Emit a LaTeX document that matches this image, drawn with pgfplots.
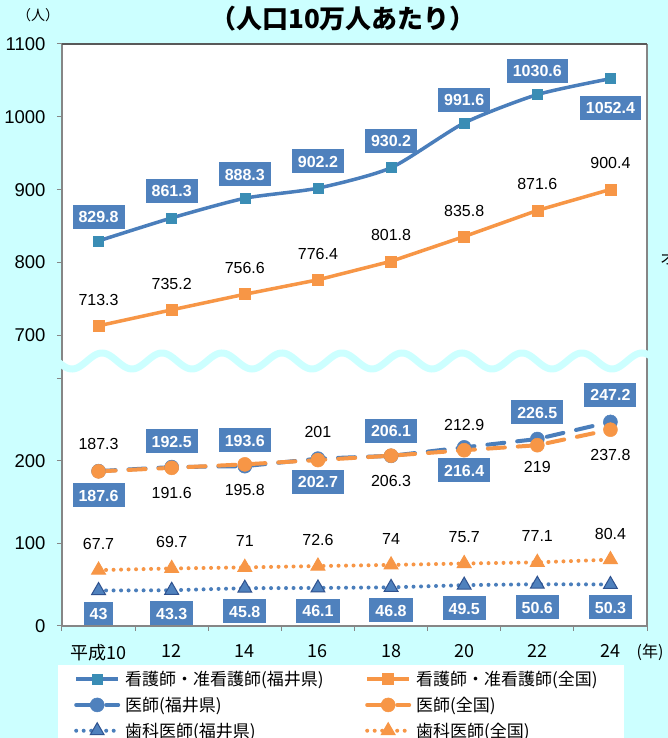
\documentclass[border=0pt]{standalone}
\usepackage{fontspec}
\setmainfont{Liberation Sans}
\newfontfamily\jp{Noto Sans CJK JP}
\usepackage{pgfplots}
\usepackage{pgfplotstable}
\pgfplotsset{compat=1.18}
\definecolor{bgc}{HTML}{CCFFFF}
\definecolor{bl}{HTML}{4A7EBB}
\definecolor{blbox}{HTML}{4F81BD}
\definecolor{sq}{HTML}{3A8DB5}
\definecolor{og}{HTML}{F79646}
\definecolor{axg}{HTML}{868686}
\definecolor{tri}{HTML}{2F528F}

\pgfplotstableread{
x y off lab
0 829.8 24 829.8
1 861.3 27 861.3
2 888.3 24 888.3
3 902.2 27 902.2
4 930.2 27 930.2
5 991.6 23 991.6
6 1030.6 24 1030.6
7 1052.4 -29 1052.4
}\nurseF
\pgfplotstableread{
x y off lab
0 713.3 26 713.3
1 735.2 26 735.2
2 756.6 26 756.6
3 776.4 26 776.4
4 801.8 26 801.8
5 835.8 26 835.8
6 871.6 26 871.6
7 900.4 26 900.4
}\nurseN
\pgfplotstableread{
x y off lab
0 187.6 -24 187.6
1 192.5 26 192.5
2 193.6 26 193.6
3 202.7 -23 202.7
4 206.1 25 206.1
5 216.4 -23 216.4
6 226.5 27 226.5
7 247.2 27 247.2
}\docF
\pgfplotstableread{
x y off lab
0 187.3 27 187.3
1 191.6 -25 191.6
2 195.8 -26 195.8
3 201 28 201
4 206.3 -25 206.3
5 212.9 25 212.9
6 219 -22 219
7 237.8 -25 237.8
}\docN
\pgfplotstableread{
x y off lab
0 43 -23 43
1 43.3 -23 43.3
2 45.8 -23 45.8
3 46.1 -23 46.1
4 46.8 -23 46.8
5 49.5 -23 49.5
6 50.6 -23 50.6
7 50.3 -23 50.3
}\dentF
\pgfplotstableread{
x y off lab
0 67.7 26 67.7
1 69.7 26 69.7
2 71 26 71
3 72.6 26 72.6
4 74 26 74
5 75.7 26 75.7
6 77.1 26 77.1
7 80.4 26 80.4
}\dentN

\pgfplotsset{
  boxlab/.style={nodes near coords, point meta=explicit symbolic,
    visualization depends on={\thisrow{off}\as\myoff},
    every node near coord/.append style={anchor=center, yshift=\myoff pt,
      fill=blbox, text=white, font=\bfseries\fontsize{16}{16}\selectfont,
      inner xsep=6pt, inner ysep=6pt, text height=12pt, text depth=0pt, solid}},
  plainlab/.style={nodes near coords, point meta=explicit symbolic,
    visualization depends on={\thisrow{off}\as\myoff},
    every node near coord/.append style={anchor=center, yshift=\myoff pt,
      text=black, font=\fontsize{16}{16}\selectfont, inner sep=0pt}},
  nurseFs/.style={draw=bl, line width=3.5pt, mark=square*, mark size=5pt,
    mark options={solid, fill=sq, draw=sq, line width=0.5pt}},
  nurseNs/.style={draw=og, line width=3.5pt, mark=square*, mark size=5.5pt,
    mark options={solid, fill=og, draw=og, line width=0.5pt}},
  docFs/.style={draw=bl, line width=4pt, line cap=round, dash pattern=on 17pt off 13pt,
    mark=*, mark size=7pt, mark options={solid, fill=blbox, draw=blbox, line width=0.5pt}},
  docNs/.style={draw=og, line width=4pt, line cap=round, dash pattern=on 17pt off 13pt,
    mark=*, mark size=7pt, mark options={solid, fill=og, draw=og, line width=0.5pt}},
  dentFs/.style={draw=bl, line width=4pt, line cap=round, dash pattern=on 0pt off 7.5pt,
    mark=triangle*, mark size=8pt, mark options={solid, fill=blbox, draw=tri, line width=1pt}},
  dentNs/.style={draw=og, line width=4pt, line cap=round, dash pattern=on 0pt off 7.5pt,
    mark=triangle*, mark size=8pt, mark options={solid, fill=og, draw=og, line width=1pt}},
  common/.style={scale only axis, width=585pt, xmin=-0.5, xmax=7.5, clip=false,
    axis background/.style={fill=white}, axis line style={draw=none},
    tick align=outside, major tick length=5pt, major tick style={axg, line width=1pt},
    ytick pos=left, xtick pos=bottom,
    /pgf/number format/assume math mode=true, /pgf/number format/1000 sep={},
    yticklabel style={font=\fontsize{18.5}{18.5}\selectfont, text=black, xshift=-8pt},
    xticklabel style={font=\jp\fontsize{18}{18}\selectfont, text=black, yshift=-10pt}},
}

\begin{document}
\begin{tikzpicture}[x=1pt,y=1pt]
\useasboundingbox (0,0) rectangle (668,738);
\fill[bgc] (0,0) rectangle (668,738);

\begin{axis}[common, at={(62pt,112pt)}, anchor=south west, height=265pt,
  ymin=0, ymax=321, ytick={0,100,200,300}, yticklabels={0,100,200,{}},
  xtick={-0.5,0.5,...,7.5}, x tick label as interval,
  xticklabels={平成10,12,14,16,18,20,22,24},
  legend columns=2,
  legend image code/.code={\draw[mark repeat=2,mark phase=2] plot coordinates {(0pt,0pt) (21pt,0pt) (42pt,0pt)};},
  legend style={at={(axis description cs:0,0)}, anchor=north west, xshift=-4pt, yshift=-39pt,
    draw=none, fill=white, inner xsep=16pt, inner ysep=4pt,
    font=\jp\fontsize{17}{17}\selectfont, row sep=6pt,
    /tikz/every odd column/.append style={column sep=3pt}},
  legend cell align=left]
\addlegendimage{nurseFs}
\addlegendimage{nurseNs}
\addplot[docFs, boxlab] table[x=x,y=y,meta=lab] {\docF};
\addplot[docNs, plainlab] table[x=x,y=y,meta=lab] {\docN};
\addplot[dentFs, boxlab] table[x=x,y=y,meta=lab] {\dentF};
\addplot[dentNs, plainlab] table[x=x,y=y,meta=lab] {\dentN};
\legend{\makebox[238pt][l]{看護師・准看護師(福井県)},\makebox[190pt][l]{看護師・准看護師(全国)},
  \makebox[238pt][l]{医師(福井県)},\makebox[190pt][l]{医師(全国)},
  \makebox[238pt][l]{歯科医師(福井県)},\makebox[190pt][l]{歯科医師(全国)}}
\end{axis}

\begin{axis}[common, at={(62pt,377pt)}, anchor=south west, height=317pt,
  ymin=665, ymax=1100, ytick={700,800,900,1000,1100}, xtick=\empty]
\addplot[nurseFs, smooth, tension=0.4, boxlab] table[x=x,y=y,meta=lab] {\nurseF};
\addplot[nurseNs, plainlab] table[x=x,y=y,meta=lab] {\nurseN};
\end{axis}

\draw[axg, line width=1.2pt] (62,112) -- (62,694);
\draw[axg, line width=1.2pt] (647,112) -- (647,694);
\draw[axg, line width=1.2pt] (62,112) -- (647,112);
\draw[black!65, line width=1.5pt] (62,694) -- (647,694);
\draw[bgc, line width=7pt] plot[variable=\t, domain=52:656, samples=300, smooth] ({\t}, {377 - 8*sin(6*(\t-57))});

\node[font=\jp\bfseries\fontsize{26}{26}\selectfont] at (343,719) {（人口10万人あたり）};
\node[font=\jp\fontsize{14}{14}\selectfont] at (38,723) {（人）};
\node[font=\jp\fontsize{16}{16}\selectfont] at (650,86) {(年)};
\node[font=\jp\fontsize{16}{16}\selectfont, anchor=west, inner sep=0pt] at (660,480) {オ};
\end{tikzpicture}
\end{document}
